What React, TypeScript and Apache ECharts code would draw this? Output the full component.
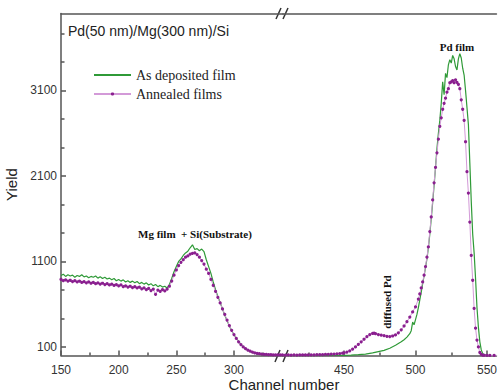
import React, { useEffect, useRef } from 'react';
import * as echarts from 'echarts';

// Channel numbers (left part of the broken axis)
const leftChannels = [
  150, 152, 154, 156, 158, 160, 162, 164, 166, 168,
  170, 172, 174, 176, 178, 180, 182, 184, 186, 188,
  190, 192, 194, 196, 198, 200, 202, 204, 206, 208,
  210, 212, 214, 216, 218, 220, 222, 224, 226, 228,
  230, 232, 234, 236, 238, 240, 242, 244, 246, 248,
  250, 252, 254, 256, 258, 260, 262, 264, 266, 268,
  270, 272, 274, 276, 278, 280, 282, 284, 286, 288,
  290, 292, 294, 296, 298, 300, 302, 304, 306, 308,
  310, 312, 314, 316, 318, 320, 322, 324, 326, 328,
  330, 332, 334, 336, 338, 340, 342,
];

const depositedLeft = [
  935, 950, 925, 945, 930, 940, 915, 935, 925, 945,
  920, 930, 910, 925, 915, 930, 905, 920, 900, 915,
  895, 905, 885, 900, 875, 890, 870, 885, 860, 875,
  855, 870, 850, 865, 840, 855, 835, 850, 825, 840,
  815, 830, 805, 820, 800, 810, 790, 830, 900, 980,
  1040, 1100, 1130, 1170, 1200, 1220, 1260, 1295, 1240, 1250,
  1225, 1245, 1215, 1120, 1040, 960, 860, 770, 690, 620,
  545, 470, 410, 345, 290, 245, 200, 165, 130, 100,
  80, 62, 48, 36, 28, 20, 15, 10, 8, 6,
  5, 4, 3, 3, 2, 2, 2,
];

const annealedLeft = [
  890, 875, 885, 870, 880, 865, 875, 860, 870, 855,
  865, 850, 860, 845, 855, 840, 850, 835, 845, 830,
  840, 825, 835, 820, 830, 815, 825, 805, 815, 800,
  810, 795, 805, 790, 800, 780, 790, 770, 785, 760,
  775, 715, 765, 750, 770, 755, 775, 810, 870, 940,
  1000, 1050, 1090, 1120, 1150, 1165, 1185, 1195, 1200, 1180,
  1150, 1110, 1070, 1010, 960, 890, 820, 750, 680, 615,
  545, 480, 415, 350, 295, 245, 200, 160, 128, 100,
  80, 64, 50, 40, 32, 26, 21, 17, 14, 12,
  10, 9, 8, 8, 7, 7, 7,
];

// Right part of the broken axis
const depositedRightChannels = [
  407, 412, 417, 422, 427, 432, 437, 442, 446, 450,
  455, 460, 465, 470, 474, 478, 482, 486, 488, 490,
  492, 494, 496, 497, 498, 499, 500, 501, 502, 503,
  504, 505, 506, 507, 508, 509, 510, 511, 512, 513,
  514, 515, 516, 517, 518, 519, 520, 521, 522, 523,
  524, 525, 526, 527, 528, 529, 530, 531, 532, 533,
  534, 535, 536, 537, 538, 539, 540, 541, 542, 543,
  544, 545, 546, 547, 548, 550, 553, 557,
];

const depositedRight = [
  0, 0, 0, 0, 0, 0, 0, 0, 1, 2,
  5, 10, 17, 30, 45, 60, 85, 120, 140, 160,
  185, 215, 255, 290, 390, 360, 420, 480, 560, 650,
  740, 840, 930, 1030, 1130, 1260, 1420, 1600, 1790, 1990,
  2200, 2420, 2600, 2750, 2950, 3200, 3050, 3300, 3250, 3400,
  3460, 3420, 3510, 3470, 3380, 3340, 3470, 3530, 3480, 3360,
  3280, 3100, 2900, 2700, 2250, 1800, 1420, 1200, 900, 560,
  330, 160, 65, 25, 8, 2, 0, 0,
];

const annealedRightChannels = [
  407, 409, 411, 413, 415, 417, 419, 421, 423, 425,
  427, 429, 431, 433, 435, 437, 439, 441, 443, 445,
  447, 449, 450, 452, 454, 456, 458, 460, 462, 464,
  466, 468, 470, 471, 472, 474, 476, 478, 480, 482,
  484, 486, 488, 490, 492, 494, 496, 498, 500, 502,
  503, 504, 505, 506, 507, 508, 509, 510, 511, 512,
  513, 514, 515, 516, 517, 518, 519, 520, 521, 522,
  523, 524, 525, 526, 527, 528, 529, 530, 531, 532,
  533, 534, 535, 536, 537, 538, 539, 540, 541, 542,
  543, 544, 545, 546, 547, 548, 550, 552, 555, 557,
];

const annealedRight = [
  6, 5, 6, 5, 6, 5, 6, 6, 7, 7,
  8, 8, 9, 10, 11, 12, 14, 15, 17, 20,
  23, 27, 30, 40, 55, 75, 100, 130, 160, 190,
  220, 245, 258, 262, 255, 245, 238, 232, 225, 222,
  228, 240, 265, 300, 345, 395, 450, 510, 570, 660,
  720, 790, 860, 940, 1040, 1150, 1270, 1450, 1620, 1820,
  2020, 2200, 2370, 2530, 2680, 2780, 2880, 2950, 3010, 3080,
  3120, 3190, 3200, 3215, 3190, 3225, 3195, 3170, 3120, 2990,
  2880, 2750, 2500, 2150, 1900, 1560, 1170, 880, 550, 320,
  180, 100, 35, 12, 5, 3, 2, 1, 1, 1,
];

// Axis ticks and labels
const yTickLabels = [100, 1100, 2100, 3100];
const yMinorTicks = [433.3, 766.7, 1433.3, 1766.7, 2433.3, 2766.7, 3433.3, 3766.7];
const xLeftLabels = [150, 200, 250, 300];
const xLeftMinor = [175, 225, 275, 325];
const xRightLabels = [450, 500, 550];
const xRightMinor = [425, 475, 525];

const GREEN = '#2f9a37';
const PURPLE_DOT = '#8a1f8f';
const PURPLE_LINE = '#d39ad8';
const AXIS = '#555';

const zip = (xs: number[], ys: number[]) => xs.map((x, i) => [x, ys[i]]);
const plain = (v: number) => String(Math.round(v));

export default function App() {
  const ref = useRef<HTMLDivElement>(null);

  useEffect(() => {
    if (!ref.current) return;
    const chart = echarts.init(ref.current, undefined, { renderer: 'svg' });
    const lineStyle = { color: AXIS, width: 1.5 };
    const labelStyle = { fontSize: 12, color: '#333', fontFamily: 'Liberation Sans' };
    const leftRange = { min: 150, max: 342.5 };
    const rightRange = { min: 407.3, max: 556.6 };

    const mkMajorX = (gridIndex: number, range: any, labels: number[]) => ({
      gridIndex, type: 'value', ...range, position: 'bottom',
      axisLine: { show: true, onZero: false, lineStyle },
      axisTick: { show: true, inside: true, length: 5, customValues: labels, lineStyle },
      axisLabel: { show: true, customValues: labels, margin: 8, formatter: plain, ...labelStyle },
      splitLine: { show: false },
    });
    const mkMinorX = (gridIndex: number, range: any, ticks: number[]) => ({
      gridIndex, type: 'value', ...range, position: 'bottom',
      axisLine: { show: false },
      axisTick: { show: true, inside: true, length: 3, customValues: ticks, lineStyle },
      axisLabel: { show: false },
      splitLine: { show: false },
    });
    const mkTopX = (gridIndex: number, range: any) => ({
      gridIndex, type: 'value', ...range, position: 'top',
      axisLine: { show: true, onZero: false, lineStyle },
      axisTick: { show: false },
      axisLabel: { show: false },
      splitLine: { show: false },
    });

    chart.setOption({
      animation: false,
      backgroundColor: '#ffffff',
      grid: [
        { left: 61, top: 13.5, width: 222, height: 342 },
        { left: 283, top: 13.5, width: 217, height: 342 },
      ],
      xAxis: [
        mkMajorX(0, leftRange, xLeftLabels),
        mkMinorX(0, leftRange, xLeftMinor),
        mkTopX(0, leftRange),
        mkMajorX(1, rightRange, xRightLabels),
        mkMinorX(1, rightRange, xRightMinor),
        mkTopX(1, rightRange),
      ],
      yAxis: [
        {
          gridIndex: 0, type: 'value', min: 0, max: 4000, position: 'left',
          axisLine: { show: true, onZero: false, lineStyle },
          axisTick: { show: true, inside: true, length: 5, customValues: yTickLabels, lineStyle },
          axisLabel: { show: true, customValues: yTickLabels, margin: 4, formatter: plain, ...labelStyle },
          splitLine: { show: false },
          name: 'Yield', nameLocation: 'middle', nameGap: 42,
          nameTextStyle: { fontSize: 15, fontFamily: 'Liberation Sans', color: '#222' },
        },
        {
          gridIndex: 0, type: 'value', min: 0, max: 4000, position: 'left',
          axisLine: { show: false },
          axisTick: { show: true, inside: true, length: 3.5, customValues: yMinorTicks, lineStyle },
          axisLabel: { show: false },
          splitLine: { show: false },
        },
        { gridIndex: 1, type: 'value', min: 0, max: 4000, show: false, splitLine: { show: false } },
      ],
      legend: {
        data: [
          { name: 'As deposited film', itemStyle: { opacity: 0 } },
          { name: 'Annealed films' },
        ],
        orient: 'vertical', left: 88, top: 63,
        itemWidth: 37, itemHeight: 4, itemGap: 5,
        selectedMode: false,
        textStyle: { fontFamily: 'Liberation Serif', fontSize: 14, color: '#222' },
      },
      series: [
        {
          name: 'As deposited film', type: 'line', xAxisIndex: 0, yAxisIndex: 0,
          data: zip(leftChannels, depositedLeft), symbol: 'none',
          lineStyle: { color: GREEN, width: 1.2 }, itemStyle: { color: GREEN },
        },
        {
          name: 'As deposited film', type: 'line', xAxisIndex: 3, yAxisIndex: 2,
          data: zip(depositedRightChannels, depositedRight), symbol: 'none',
          lineStyle: { color: GREEN, width: 1.2 }, itemStyle: { color: GREEN },
        },
        {
          name: 'Annealed films', type: 'line', xAxisIndex: 0, yAxisIndex: 0,
          data: zip(leftChannels, annealedLeft), symbol: 'circle', symbolSize: 3.2,
          lineStyle: { color: PURPLE_LINE, width: 1 }, itemStyle: { color: PURPLE_DOT },
        },
        {
          name: 'Annealed films', type: 'line', xAxisIndex: 3, yAxisIndex: 2,
          data: zip(annealedRightChannels, annealedRight), symbol: 'circle', symbolSize: 3.2,
          lineStyle: { color: PURPLE_LINE, width: 1 }, itemStyle: { color: PURPLE_DOT },
        },
      ],
      graphic: [
        {
          type: 'text', x: 68, y: 31,
          style: { text: 'Pd(50 nm)/Mg(300 nm)/Si', fontSize: 14, fontFamily: 'Liberation Sans', fill: '#222', align: 'left', verticalAlign: 'middle' },
        },
        {
          type: 'text', x: 457, y: 47,
          style: { text: 'Pd film', fontSize: 11, fontWeight: 'bold', fontFamily: 'Liberation Serif', fill: '#111', align: 'center', verticalAlign: 'middle' },
        },
        {
          type: 'text', x: 138, y: 234,
          style: { text: 'Mg film  + Si(Substrate)', fontSize: 11, fontWeight: 'bold', fontFamily: 'Liberation Serif', fill: '#111', align: 'left', verticalAlign: 'middle' },
        },
        {
          type: 'text', x: 387, y: 302, rotation: Math.PI / 2,
          style: { text: 'diffused Pd', fontSize: 11, fontWeight: 'bold', fontFamily: 'Liberation Serif', fill: '#111', align: 'center', verticalAlign: 'middle' },
        },
        {
          type: 'text', x: 284, y: 384,
          style: { text: 'Channel number', fontSize: 15, fontFamily: 'Liberation Sans', fill: '#222', align: 'center', verticalAlign: 'middle' },
        },
        { type: 'line', shape: { x1: 275, y1: 362, x2: 280, y2: 350 }, style: { stroke: '#333', lineWidth: 1.5 } },
        { type: 'line', shape: { x1: 283, y1: 362, x2: 288, y2: 350 }, style: { stroke: '#333', lineWidth: 1.5 } },
        { type: 'line', shape: { x1: 276, y1: 19, x2: 281, y2: 8 }, style: { stroke: '#333', lineWidth: 1.5 } },
        { type: 'line', shape: { x1: 283, y1: 19, x2: 288, y2: 8 }, style: { stroke: '#333', lineWidth: 1.5 } },
      ],
    });
    return () => chart.dispose();
  }, []);

  return (
    <div
      ref={ref}
      style={{ position: 'absolute', left: 0, top: 0, width: 500, height: 392, background: '#fff' }}
    />
  );
}
